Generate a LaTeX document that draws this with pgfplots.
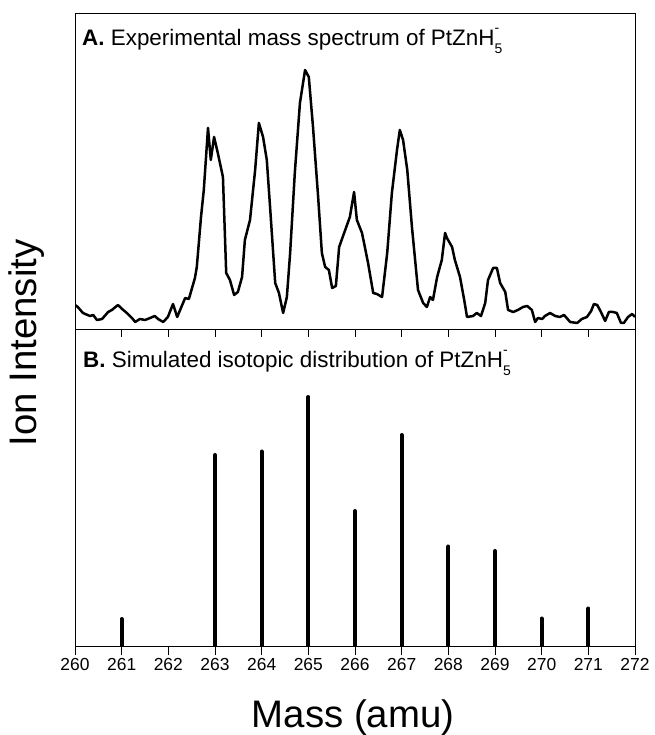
\documentclass[border=0pt]{standalone}
\usepackage{fontspec}
\setmainfont{Liberation Sans}
\usepackage{pgfplots}
\pgfplotsset{compat=1.18}

% experimental spectrum (arbitrary units)
\pgfplotstableread{
m      I
260.00 25
260.06 23
260.17 17
260.32 14
260.39 15
260.47 10
260.58 11
260.71 18
260.79 20
260.92 25
261.01 21
261.11 17
261.22 12
261.29 8
261.39 11
261.50 10
261.61 12
261.71 14
261.78 11
261.89 8
261.99 13
262.10 26
262.19 13
262.36 32
262.44 31
262.57 52
262.61 63
262.70 113
262.76 140
262.85 202
262.91 170
262.98 193
263.06 177
263.17 153
263.24 57
263.32 50
263.41 35
263.49 38
263.58 53
263.64 90
263.75 110
263.86 160
263.94 207
264.03 193
264.11 170
264.18 123
264.29 47
264.37 37
264.46 17
264.54 33
264.61 77
264.71 157
264.82 227
264.93 260
265.01 253
265.10 203
265.21 133
265.29 77
265.36 63
265.44 60
265.51 42
265.59 44
265.66 83
265.79 100
265.89 113
265.98 138
266.04 110
266.15 97
266.28 67
266.39 37
266.47 36
266.58 33
266.69 77
266.79 137
266.90 180
266.96 200
267.03 190
267.12 160
267.22 103
267.35 40
267.46 27
267.54 23
267.61 33
267.67 30
267.76 53
267.86 70
267.93 97
267.97 92
268.08 83
268.14 70
268.25 53
268.34 30
268.40 13
268.53 14
268.61 17
268.70 14
268.79 27
268.85 50
268.96 62
269.04 62
269.11 47
269.22 38
269.28 20
269.39 18
269.49 20
269.60 23
269.69 24
269.79 20
269.86 8
269.92 12
270.01 11
270.07 14
270.18 17
270.29 14
270.39 13
270.48 15
270.61 8
270.76 7
270.86 11
270.97 13
271.06 19
271.12 26
271.19 25
271.27 18
271.36 9
271.44 18
271.53 18
271.61 17
271.70 7
271.76 7
271.85 13
271.94 16
272.00 13
}\exptable

% simulated isotopic distribution (relative, 265 = 100)
\pgfplotstableread{
m   I
261 11.2
263 76.8
264 78.2
265 100
266 54.4
267 84.8
268 40.2
269 38.4
270 11.4
271 15.4
}\simtable

\newcommand{\ion}{PtZnH\rlap{\raisebox{1.1ex}{\fontsize{14}{14}\selectfont -}}\raisebox{-0.6ex}{\fontsize{14}{14}\selectfont 5}}

\begin{document}
\begin{tikzpicture}[x=1bp,y=1bp]
\useasboundingbox (-75,-88) rectangle (580,647);

\pgfplotsset{
  panel/.style={
    scale only axis, width=560bp,
    xmin=260, xmax=272, ymin=0,
    ytick=\empty,
    xtick pos=left, tick align=outside,
    axis line style={line width=1bp},
    every tick/.style={black, line width=1bp},
    /pgf/number format/assume math mode=true,
    ticklabel style={font=\fontsize{17.5}{18}\selectfont},
  }
}

\begin{axis}[panel, name=bot, at={(0,0)}, anchor=south west,
  height=317bp, ymax=126.8,
  xtick={260,...,272}, major tick length=8bp]
\addplot[ycomb, black, line width=4bp, line cap=round] table[x=m, y=I] {\simtable};
\end{axis}

\begin{axis}[panel, name=top, at={(0,317)}, anchor=south west,
  height=316bp, ymax=316,
  xtick={261,...,271}, xticklabels={}, major tick length=7bp]
\addplot[black, line width=2.5bp, line join=round] table[x=m, y=I] {\exptable};
\end{axis}

\node[anchor=base west, inner sep=0, font=\fontsize{22.5}{24}\selectfont]
  at (7,601) {\textbf{A.} Experimental mass spectrum of \ion};
\node[anchor=base west, inner sep=0, font=\fontsize{22.5}{24}\selectfont]
  at (8,279) {\textbf{B.} Simulated isotopic distribution of \ion};

\node[rotate=90, inner sep=0, font=\fontsize{38.5}{40}\selectfont]
  at (-48,304) {Ion Intensity};
\node[anchor=base, inner sep=0, font=\fontsize{38.5}{40}\selectfont]
  at (278,-80) {Mass (amu)};
\end{tikzpicture}
\end{document}
